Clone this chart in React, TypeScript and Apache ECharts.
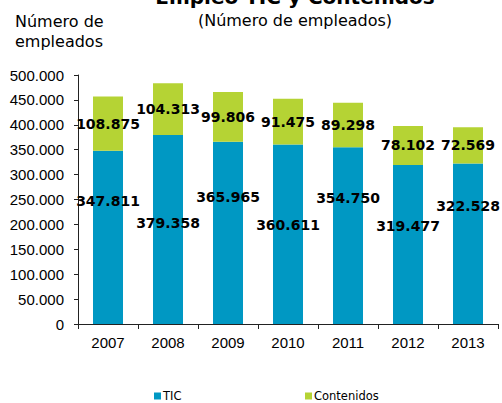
import React, { useEffect, useRef } from "react";
import * as echarts from "echarts";

const years = ["2007", "2008", "2009", "2010", "2011", "2012", "2013"];
const ticValues = [347811, 379358, 365965, 360611, 354750, 319477, 322528];
const contenidosValues = [108875, 104313, 99806, 91475, 89298, 78102, 72569];
// vertical shift (px) of the TIC value labels relative to bar centre, as placed in the original
const ticLabelShift = [-36, -7, -36, -9, -38, -18, -38];

const fmt = (v: number) => String(Math.round(v)).replace(/\B(?=(\d{3})+(?!\d))/g, ".");

export default function App() {
  const ref = useRef<HTMLDivElement>(null);
  useEffect(() => {
    if (!ref.current) return;
    const chart = echarts.init(ref.current, null, { renderer: "svg" });
    const labelStyle = {
      show: true,
      position: "inside" as const,
      fontFamily: "DejaVu Sans",
      fontWeight: "bold" as const,
      fontSize: 14,
      color: "#000",
      formatter: (p: any) => fmt(p.value),
    };
    const legendText = { fontFamily: "DejaVu Sans", fontSize: 11.5, color: "#000", padding: [0, 0, 0, -3] };
    chart.setOption({
      animation: false,
      backgroundColor: "#fff",
      title: {
        text: "Empleo TIC y Contenidos",
        subtext: "(Número de empleados)",
        left: 290,
        textAlign: "center",
        top: -18,
        itemGap: 5,
        textStyle: { fontFamily: "DejaVu Sans", fontWeight: "bold", fontSize: 20, color: "#000" },
        subtextStyle: { fontFamily: "DejaVu Sans", fontSize: 16, color: "#000" },
      },
      graphic: [
        {
          type: "text",
          left: 59 - 44,
          top: 11,
          style: {
            text: "Número de\nempleados",
            fontFamily: "DejaVu Sans",
            fontSize: 16,
            lineHeight: 20,
            align: "center",
            fill: "#000",
            x: 44,
          },
        },
      ],
      legend: [
        {
          data: ["TIC"],
          left: 149,
          top: 385,
          itemWidth: 7,
          itemHeight: 7,
          icon: "rect",
          textStyle: legendText,
        },
        {
          data: ["Contenidos"],
          left: 300,
          top: 385,
          itemWidth: 7,
          itemHeight: 7,
          icon: "rect",
          textStyle: legendText,
        },
      ],
      grid: { left: 78, right: 4, top: 75, bottom: 79 },
      xAxis: {
        type: "category",
        data: years,
        axisLine: { lineStyle: { color: "#222", width: 1 } },
        axisTick: { show: true, length: 5, lineStyle: { color: "#222" } },
        axisLabel: { fontFamily: "Liberation Sans", fontSize: 15, color: "#000", margin: 11 },
      },
      yAxis: {
        type: "value",
        min: 0,
        max: 500000,
        interval: 50000,
        splitLine: { show: false },
        axisLine: { show: true, lineStyle: { color: "#222", width: 1 } },
        axisTick: { show: true, length: 4, lineStyle: { color: "#222" } },
        axisLabel: {
          fontFamily: "Liberation Sans",
          fontSize: 15,
          color: "#000",
          margin: 14,
          formatter: (v: number) => fmt(v),
        },
      },
      series: [
        {
          name: "TIC",
          type: "bar",
          stack: "total",
          barWidth: 30,
          itemStyle: { color: "#0098c3" },
          data: ticValues.map((v, i) => ({
            value: v,
            label: { ...labelStyle, offset: [0, ticLabelShift[i]] },
          })),
          label: labelStyle,
        },
        {
          name: "Contenidos",
          type: "bar",
          stack: "total",
          barWidth: 30,
          itemStyle: { color: "#b5d334" },
          data: contenidosValues,
          label: labelStyle,
        },
      ],
    });
    return () => chart.dispose();
  }, []);
  return <div ref={ref} style={{ width: 502, height: 403, position: "absolute", left: 0, top: 0 }} />;
}
